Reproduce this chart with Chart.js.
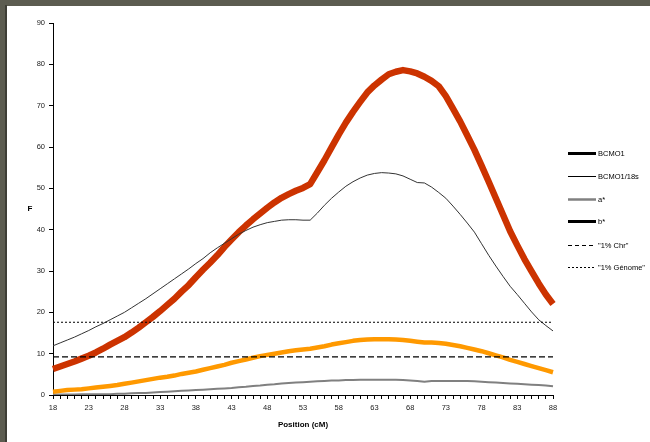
<!DOCTYPE html>
<html>
<head>
<meta charset="utf-8">
<title>F - Position (cM)</title>
<script src="https://cdn.jsdelivr.net/npm/chart.js@4.4.1/dist/chart.umd.min.js"></script>
<style>
html, body { margin: 0; padding: 0; background: #5c5c50; }
#wrap { width: 650px; height: 442px; }
</style>
</head>
<body>
<div id="wrap"><canvas id="mycanvas" width="650" height="442"></canvas></div>
<script>
// position in cM, one category per cM
var positions = [18, 19, 20, 21, 22, 23, 24, 25, 26, 27,
                 28, 29, 30, 31, 32, 33, 34, 35, 36, 37,
                 38, 39, 40, 41, 42, 43, 44, 45, 46, 47,
                 48, 49, 50, 51, 52, 53, 54, 55, 56, 57,
                 58, 59, 60, 61, 62, 63, 64, 65, 66, 67,
                 68, 69, 70, 71, 72, 73, 74, 75, 76, 77,
                 78, 79, 80, 81, 82, 83, 84, 85, 86, 87,
                 88];

var bcmo1 = [6.3, 6.9, 7.5, 8.1, 8.8, 9.5, 10.3, 11.2, 12.2, 13.1,
             14.0, 15.1, 16.3, 17.6, 18.9, 20.3, 21.8, 23.3, 25.0, 26.6,
             28.5, 30.3, 32.0, 33.8, 35.8, 37.6, 39.4, 41.0, 42.5, 43.9,
             45.3, 46.6, 47.7, 48.6, 49.4, 50.1, 51.0, 53.9, 56.8, 59.9,
             63.0, 65.9, 68.5, 70.9, 73.2, 74.9, 76.3, 77.6, 78.2, 78.6,
             78.3, 77.8, 77.0, 76.0, 74.7, 72.3, 69.3, 66.2, 62.8, 59.3,
             55.5, 51.6, 47.6, 43.6, 39.6, 36.2, 32.9, 29.9, 27.0, 24.3,
             22.0];

var bcmo1_18s = [11.9, 12.6, 13.3, 14.0, 14.8, 15.6, 16.5, 17.3, 18.2, 19.1,
                 20.0, 21.1, 22.2, 23.3, 24.5, 25.7, 26.9, 28.1, 29.3, 30.5,
                 31.8, 33.0, 34.4, 35.6, 36.7, 37.8, 38.9, 39.8, 40.6, 41.2,
                 41.7, 42.0, 42.3, 42.4, 42.4, 42.3, 42.3, 44.0, 45.9, 47.6,
                 49.1, 50.5, 51.6, 52.5, 53.2, 53.6, 53.8, 53.7, 53.5, 53.0,
                 52.2, 51.4, 51.3, 50.3, 49.0, 47.6, 45.7, 43.7, 41.6, 39.4,
                 36.6, 33.8, 31.2, 28.7, 26.3, 24.3, 22.2, 20.1, 18.2, 16.8,
                 15.5];

var aStar = [0.1, 0.1, 0.1, 0.1, 0.2, 0.2, 0.2, 0.2, 0.2, 0.3,
             0.3, 0.4, 0.5, 0.5, 0.6, 0.7, 0.8, 0.9, 1.0, 1.1,
             1.2, 1.3, 1.4, 1.5, 1.6, 1.7, 1.9, 2.0, 2.2, 2.3,
             2.5, 2.6, 2.8, 2.9, 3.0, 3.1, 3.2, 3.3, 3.4, 3.5,
             3.5, 3.6, 3.6, 3.7, 3.7, 3.7, 3.7, 3.7, 3.7, 3.6,
             3.5, 3.4, 3.2, 3.4, 3.4, 3.4, 3.4, 3.4, 3.4, 3.3,
             3.2, 3.1, 3.0, 2.9, 2.8, 2.7, 2.6, 2.5, 2.4, 2.3,
             2.1];

var bStar = [0.8, 1.0, 1.2, 1.3, 1.4, 1.6, 1.8, 2.0, 2.2, 2.4,
             2.7, 3.0, 3.3, 3.6, 3.9, 4.2, 4.4, 4.7, 5.1, 5.4,
             5.7, 6.1, 6.5, 6.9, 7.3, 7.8, 8.2, 8.6, 9.0, 9.4,
             9.7, 10.0, 10.3, 10.6, 10.8, 11.0, 11.2, 11.5, 11.8, 12.2,
             12.5, 12.8, 13.1, 13.3, 13.4, 13.5, 13.5, 13.5, 13.4, 13.3,
             13.1, 12.9, 12.7, 12.7, 12.6, 12.4, 12.1, 11.8, 11.4, 11.0,
             10.6, 10.1, 9.6, 9.1, 8.5, 8.0, 7.5, 7.0, 6.5, 6.0,
             5.5];

// significance thresholds
var thresholdChr = 9.2;
var thresholdGenome = 17.6;

var seriesLabels = ['BCMO1', 'BCMO1/18s', 'a*', 'b*', '"1% Chr"', '"1% G\u00e9nome"'];
var yTicks = [0, 10, 20, 30, 40, 50, 60, 70, 80, 90];

function flatLine(v) {
    return [{x: positions[0], y: v}, {x: positions[positions.length - 1], y: v}];
}

// slide background + white panel
var backdrop = {
    id: 'backdrop',
    beforeDraw: function(chart) {
        var ctx = chart.ctx;
        ctx.save();
        ctx.fillStyle = '#5c5c50';
        ctx.fillRect(0, 0, 650, 442);
        ctx.fillStyle = '#3e3e36';
        ctx.fillRect(5, 5, 2, 437);
        ctx.fillStyle = '#ffffff';
        ctx.fillRect(7, 6, 643, 436);
        ctx.restore();
    }
};

// excel-like legend (black keys) + horizontal "F" label
var sideLegend = {
    id: 'sideLegend',
    afterDraw: function(chart) {
        var ctx = chart.ctx;
        var rows = [153, 176, 199, 221, 245, 267];
        ctx.save();
        chart.data.datasets.forEach(function(ds, i) {
            var y = rows[i] + 0.5;
            ctx.beginPath();
            ctx.strokeStyle = ds.keyColor;
            ctx.lineWidth = ds.keyWidth;
            ctx.setLineDash(ds.keyDash);
            ctx.moveTo(568, y);
            ctx.lineTo(596, y);
            ctx.stroke();
            ctx.setLineDash([]);
            ctx.fillStyle = '#000';
            ctx.font = '7.5px "Liberation Sans", Arial, sans-serif';
            ctx.textBaseline = 'middle';
            ctx.textAlign = 'left';
            ctx.fillText(ds.label, 598, y);
        });
        ctx.font = 'bold 8px "Liberation Sans", Arial, sans-serif';
        ctx.textAlign = 'center';
        ctx.fillText('F', 30, 209);
        ctx.restore();
    }
};

Chart.defaults.font.family = '"Liberation Sans", Arial, sans-serif';
Chart.defaults.font.size = 7.5;
Chart.defaults.color = '#222';

var chartdata = {
    labels: positions,
    datasets: [
        {
            label: seriesLabels[0], data: bcmo1, order: 5,
            borderColor: 'rgb(204,51,0)', borderWidth: 6.5,
            keyColor: '#000', keyWidth: 3, keyDash: []
        },
        {
            label: seriesLabels[1], data: bcmo1_18s, order: 4,
            borderColor: '#333333', borderWidth: 1,
            keyColor: '#000', keyWidth: 1, keyDash: []
        },
        {
            label: seriesLabels[2], data: aStar, order: 3,
            borderColor: '#808080', borderWidth: 2,
            keyColor: '#808080', keyWidth: 2.5, keyDash: []
        },
        {
            label: seriesLabels[3], data: bStar, order: 2,
            borderColor: 'rgb(255,153,0)', borderWidth: 4.5,
            keyColor: '#000', keyWidth: 3, keyDash: []
        },
        {
            label: seriesLabels[4], data: flatLine(thresholdChr), order: 1,
            borderColor: '#000', borderWidth: 1.2, borderDash: [6, 3],
            keyColor: '#000', keyWidth: 1.2, keyDash: [4, 3]
        },
        {
            label: seriesLabels[5], data: flatLine(thresholdGenome), order: 0,
            borderColor: '#000', borderWidth: 1, borderDash: [2, 2],
            keyColor: '#000', keyWidth: 1, keyDash: [2, 2]
        }
    ]
};

var config = {
    type: 'line',
    data: chartdata,
    options: {
        responsive: false,
        animation: false,
        devicePixelRatio: 1,
        layout: { padding: { left: 0, top: 23, right: 97, bottom: 0 } },
        elements: {
            point: { radius: 0, hoverRadius: 0 },
            line: { tension: 0, fill: false, borderJoinStyle: 'round', borderCapStyle: 'butt' }
        },
        plugins: {
            legend: { display: false },
            tooltip: { enabled: false }
        },
        scales: {
            x: {
                type: 'category',
                offset: false,
                border: { display: true, color: '#000', width: 1 },
                grid: { display: true, drawOnChartArea: false, drawTicks: true, tickLength: 4, color: '#000' },
                ticks: {
                    autoSkip: false, maxRotation: 0, padding: 4,
                    callback: function(value, index) {
                        return (positions[index] - positions[0]) % 5 === 0 ? String(positions[index]) : '';
                    }
                },
                title: {
                    display: true, text: 'Position (cM)', color: '#000',
                    font: { weight: 'bold', size: 8 },
                    padding: { top: 4, bottom: 12 }
                },
                afterFit: function(scale) { scale.height = 47; }
            },
            y: {
                min: 0, max: 90,
                border: { display: true, color: '#000', width: 1 },
                grid: { display: true, drawOnChartArea: false, drawTicks: true, tickLength: 4, color: '#000' },
                afterBuildTicks: function(scale) {
                    scale.ticks = yTicks.map(function(v) { return {value: v}; });
                },
                ticks: { padding: 4 },
                afterFit: function(scale) { scale.width = 53; }
            }
        }
    },
    plugins: [backdrop, sideLegend]
};

var ctx = document.getElementById('mycanvas').getContext('2d');
var fChart = new Chart(ctx, config);
</script>
</body>
</html>
